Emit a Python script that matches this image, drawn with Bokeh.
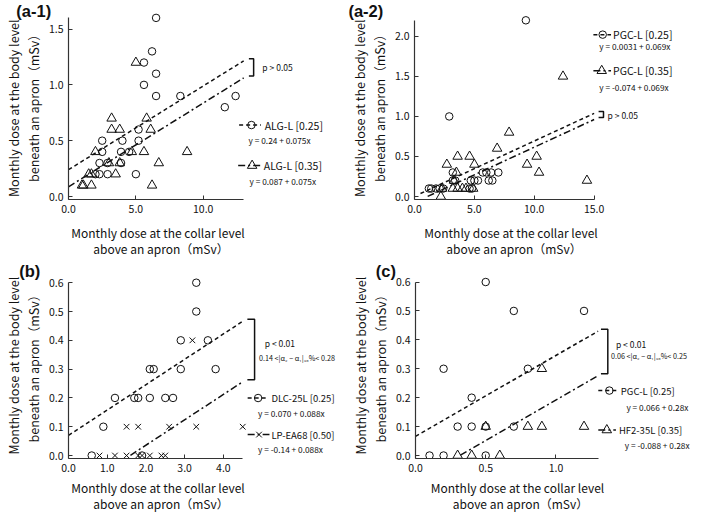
from bokeh.plotting import figure
from bokeh.layouts import column, row
from bokeh.models import Range1d, FixedTicker, NumeralTickFormatter, Label
from bokeh.embed import file_html
from bokeh.resources import INLINE

FONT = "Noto Sans CJK JP"
TFONT = "Liberation Sans"
INK = "#111111"

# ------------------------------------------------------------------ data
# (a-1)
a1_L25_x = [6.5, 6.2, 5.6, 6.5, 5.6, 6.5, 8.3, 11.6, 12.4, 5.2, 2.5, 4.0, 5.2, 2.5, 3.9, 4.5, 2.3, 2.9, 3.9, 2.0, 2.3, 2.9, 5.0]
a1_L25_y = [1.6, 1.3, 1.2, 1.1, 1.0, 0.9, 0.9, 0.8, 0.9, 0.6, 0.5, 0.5, 0.5, 0.4, 0.4, 0.4, 0.3, 0.3, 0.3, 0.2, 0.2, 0.2, 0.2]
a1_L35_x = [5.0, 3.2, 5.8, 3.2, 3.8, 6.1, 2.0, 4.7, 5.6, 8.8, 3.0, 3.8, 6.7, 1.5, 1.7, 3.5, 1.0, 1.1, 1.7, 6.2]
a1_L35_y = [1.2, 0.7, 0.7, 0.6, 0.6, 0.6, 0.4, 0.4, 0.4, 0.4, 0.3, 0.3, 0.3, 0.2, 0.2, 0.2, 0.1, 0.1, 0.1, 0.1]
a1_fits = [(0.24, 0.075, 0.0, 13.0), (0.087, 0.075, 0.0, 13.0)]
a1_names = ["ALG-L [0.25]", "ALG-L [0.35]"]
a1_eqs = ["y = 0.24 + 0.075x", "y = 0.087 + 0.075x"]
a1_stat = ["p > 0.05"]
a1_xticks = [0, 5, 10]
a1_yticks = [0, 0.5, 1.0, 1.5]

# (a-2)
a2_L25_x = [9.3, 2.9, 3.2, 5.7, 6.0, 6.4, 7.0, 3.2, 3.4, 4.7, 5.0, 5.3, 6.2, 6.5, 1.2, 1.4, 1.8, 2.1, 2.4, 4.6, 4.8]
a2_L25_y = [2.2, 1.0, 0.3, 0.3, 0.3, 0.3, 0.3, 0.2, 0.2, 0.2, 0.2, 0.2, 0.2, 0.2, 0.1, 0.1, 0.1, 0.1, 0.1, 0.1, 0.1]
a2_L35_x = [12.4, 7.9, 6.9, 3.6, 4.6, 10.2, 2.7, 5.0, 9.4, 10.4, 3.5, 14.4, 3.3, 2.3, 3.2, 3.6, 4.0, 4.3, 4.9, 2.2]
a2_L35_y = [1.5, 0.8, 0.6, 0.5, 0.5, 0.5, 0.4, 0.4, 0.4, 0.3, 0.3, 0.2, 0.2, 0.1, 0.1, 0.1, 0.1, 0.1, 0.1, 0.0]
a2_fits = [(0.0031, 0.069, 0.5, 15.0), (-0.074, 0.069, 1.1, 15.0)]
a2_names = ["PGC-L [0.25]", "PGC-L [0.35]"]
a2_eqs = ["y = 0.0031 + 0.069x", "y = -0.074 + 0.069x"]
a2_stat = ["p > 0.05"]
a2_xticks = [0, 5, 10, 15]
a2_yticks = [0, 0.5, 1.0, 1.5, 2.0]

# (b)
b_D25_x = [3.3, 3.3, 2.9, 3.6, 2.1, 2.2, 2.9, 3.8, 1.2, 1.7, 1.8, 2.1, 2.5, 2.7, 0.9, 0.6, 1.9]
b_D25_y = [0.6, 0.5, 0.4, 0.4, 0.3, 0.3, 0.3, 0.3, 0.2, 0.2, 0.2, 0.2, 0.2, 0.2, 0.1, 0.0, 0.0]
b_LP_x = [3.2, 1.5, 1.8, 2.6, 3.3, 4.5, 0.8, 1.2, 1.5, 1.8, 1.9, 2.1, 2.4, 2.5]
b_LP_y = [0.4, 0.1, 0.1, 0.1, 0.1, 0.1, 0.0, 0.0, 0.0, 0.0, 0.0, 0.0, 0.0, 0.0]
b_fits = [(0.070, 0.088, 0.0, 4.5), (-0.14, 0.088, 1.6, 4.5)]
b_names = ["DLC-25L [0.25]", "LP-EA68 [0.50]"]
b_eqs = ["y = 0.070 + 0.088x", "y = -0.14 + 0.088x"]
b_stat = ["p < 0.01", "0.14 <|α₂ − α₁|₉₅%< 0.28"]
b_xticks = [0, 1, 2, 3, 4]
b_yticks = [0, 0.1, 0.2, 0.3, 0.4, 0.5, 0.6]

# (c)
c_P25_x = [0.5, 0.7, 1.2, 0.2, 0.8, 0.4, 0.3, 0.4, 0.5, 0.7, 0.1, 0.2, 0.5]
c_P25_y = [0.6, 0.5, 0.5, 0.3, 0.3, 0.2, 0.1, 0.1, 0.1, 0.1, 0.0, 0.0, 0.0]
c_H35_x = [0.9, 0.5, 0.8, 0.9, 1.2, 0.3, 0.4, 0.6]
c_H35_y = [0.3, 0.1, 0.1, 0.1, 0.1, 0.0, 0.0, 0.0]
c_fits = [(0.066, 0.28, 0.0, 1.3), (-0.088, 0.28, 0.32, 1.3)]
c_names = ["PGC-L [0.25]", "HF2-35L [0.35]"]
c_eqs = ["y = 0.066 + 0.28x", "y = -0.088 + 0.28x"]
c_stat = ["p < 0.01", "0.06 <|α₂ − α₁|₉₅%< 0.25"]
c_xticks = [0, 0.5, 1.0]
c_yticks = [0, 0.1, 0.2, 0.3, 0.4, 0.5, 0.6]

XLABEL_LINES = ["Monthly dose at the collar level", "above an apron（mSv）"]
YLABEL_LINES = ["Monthly dose at the body level", "beneath an apron（mSv）"]

# ------------------------------------------------------------------ layout
SX, OX = 0.98, 5.06                       # reference x -> page x
ROW_MAP = [(0.975, 1.0),                  # row 1: page_y = a*ref + b
           (0.948, 282 - 0.948 * 287.7)]  # row 2 (slightly compressed)
XLAB_STANDOFF = [8, 4]
YLAB_PAD = ["\u3000", "\u2002"]           # trailing pad: nudges the centred label down
COLS = [(8, 353), (353, 701)]
ROWS = [(0, 262), (262, 523)]
TOP = 4
PAD = 3
DASH = "4 3"
DASHDOT = "7 3 2 3"


def px(rx):
    return OX + SX * rx


def msize(mk):
    return 7.5 if mk == "circle" else (9.5 if mk == "triangle" else 8)


def padded(lines, pad):
    return "\n".join(line + pad for line in lines)


def build(spec):
    fx0, fx1 = COLS[spec["col"]]
    fy0, fy1 = ROWS[spec["row"]]
    sy_, oy_ = ROW_MAP[spec["row"]]

    def py(ry):
        return oy_ + sy_ * ry

    xu = spec["xu"] * SX
    yu = spec["yu"] * sy_
    left = int(round(px(spec["x0"])))
    bottom = int(round(py(spec["y0"]) + PAD))
    zero_y = bottom - PAD
    top = fy0 + TOP
    right = fx1 - 2
    y_lo = -PAD / yu
    p = figure(width=fx1 - fx0, height=fy1 - fy0,
               x_range=Range1d(0, (right - left) / xu),
               y_range=Range1d(y_lo, (zero_y - top) / yu),
               min_border_left=left - fx0, min_border_right=fx1 - right,
               min_border_top=TOP, min_border_bottom=fy1 - bottom,
               output_backend="svg", toolbar_location=None)
    p.grid.visible = False
    p.outline_line_color = None

    def dx(rx):
        return (px(rx) - left) / xu

    def dy(ry):
        return (zero_y - py(ry)) / yu

    # panel title in the "above" side panel, pulled down over the frame
    title_left, title_bottom = spec["title_pos"]
    p.title.text = spec["title"]
    p.title.align = "left"
    p.title.offset = px(title_left) - left
    p.title.vertical_align = "bottom"
    p.title.standoff = int(round(-2 * (py(title_bottom) - top)))
    p.title.text_font = TFONT
    p.title.text_font_size = "16.5px"
    p.title.text_font_style = "bold"
    p.title.text_color = INK

    xa, ya = p.xaxis[0], p.yaxis[0]
    xa.bounds = (0, spec["xmax"])
    ya.bounds = (y_lo, spec["ymax"])
    xa.ticker = FixedTicker(ticks=spec["xticks"])
    ya.ticker = FixedTicker(ticks=spec["yticks"])
    for ax in (xa, ya):
        ax.formatter = NumeralTickFormatter(format="0.0")
        ax.axis_line_color = "#333333"
        ax.axis_line_width = 1.2
        ax.major_tick_line_color = "#333333"
        ax.major_tick_in = 4
        ax.major_tick_out = 0
        ax.minor_tick_line_color = None
        ax.major_label_text_font = FONT
        ax.major_label_text_font_size = "10.5px"
        ax.major_label_text_color = INK
        ax.axis_label_text_font = FONT
        ax.axis_label_text_font_style = "normal"
        ax.axis_label_text_color = INK
    # labels are centred on the frame, which also holds the legend; a trailing
    # run of ideographic spaces moves the visible text back under the axis
    xa.axis_label = padded(XLABEL_LINES, "\u3000" * spec["xlab_pad"])
    ya.axis_label = padded(YLABEL_LINES, YLAB_PAD[spec["row"]])
    xa.axis_label_text_font_size = "12px"
    ya.axis_label_text_font_size = "12.5px"
    xa.major_label_standoff = 5
    xa.axis_label_standoff = XLAB_STANDOFF[spec["row"]]
    xa.axis_label_text_line_height = 0.95
    ya.major_label_standoff = 5
    ya.axis_label_standoff = 3
    ya.axis_label_text_line_height = 1.06

    markers = spec["markers"]
    for (xs, ys), mk in zip(spec["series"], markers):
        p.scatter(xs, ys, marker=mk, size=msize(mk), fill_color=None,
                  line_color=INK, line_width=1)

    dashes = [DASH, DASHDOT]
    ends = []
    for (a, b, x_lo, x_hi), dash in zip(spec["fits"], dashes):
        p.line([x_lo, x_hi], [a + b * x_lo, a + b * x_hi], line_dash=dash,
               line_width=1.5, line_color=INK)
        ends.append(a + b * x_hi)

    # bracket spanning the two fitted lines at their right end
    yhi = max(ends) + 2 / yu
    ylo = min(ends) + 2 / yu
    bt, bb = spec["bracket"]
    p.line([dx(bt), dx(bb), dx(bb), dx(bt)], [yhi, yhi, ylo, ylo],
           line_width=1.5, line_color=INK)
    for txt, (tx, ty, fs) in zip(spec["stat"], spec["stat_pos"]):
        p.add_layout(Label(x=dx(tx), y=dy(ty), text=txt, text_font=FONT,
                           text_font_size=fs, text_baseline="middle",
                           text_align="left", text_color=INK))

    # legend rows
    nfs, efs = spec["legend_fs"]
    for i, (sx0, sx1, mx, tx, ty, ex, ey) in enumerate(spec["legend"]):
        p.line([dx(sx0), dx(sx1)], [dy(ty), dy(ty)], line_dash=dashes[i],
               line_width=1.5, line_color=INK)
        mk = markers[i]
        p.scatter([dx(mx)], [dy(ty)], marker=mk, size=msize(mk), fill_color=None,
                  line_color=INK, line_width=1)
        p.add_layout(Label(x=dx(tx), y=dy(ty), text=spec["names"][i], text_font=FONT,
                           text_font_size=nfs, text_baseline="middle",
                           text_align="left", text_color=INK))
        p.add_layout(Label(x=dx(ex), y=dy(ey), text=spec["eqs"][i], text_font=FONT,
                           text_font_size=efs, text_baseline="middle",
                           text_align="left", text_color=INK))
    return p


A1 = dict(col=0, row=0, x0=63, xu=14.2, y0=200, yu=114.5, xmax=13, ymax=1.6,
          xticks=a1_xticks, yticks=a1_yticks, title="(a-1)", title_pos=(10, 19),
          xlab_pad=8,
          series=[(a1_L25_x, a1_L25_y), (a1_L35_x, a1_L35_y)],
          markers=["circle", "triangle"], fits=a1_fits, names=a1_names, eqs=a1_eqs,
          bracket=(253.3, 258.3), stat=a1_stat,
          stat_pos=[(267.5, 67.5, "8.5px")],
          legend_fs=("10.5px", "8.3px"),
          legend=[(243, 266, 256, 270, 126.7, 253, 142.3),
                  (242, 266, 256.7, 269, 168.3, 254, 184)])

A2 = dict(col=1, row=0, x0=425.7, xu=12.22, y0=201.7, yu=83, xmax=15, ymax=2.2,
          xticks=a2_xticks, yticks=a2_yticks, title="(a-2)", title_pos=(358, 19),
          xlab_pad=7,
          series=[(a2_L25_x, a2_L25_y), (a2_L35_x, a2_L35_y)],
          markers=["circle", "triangle"], fits=a2_fits, names=a2_names, eqs=a2_eqs,
          bracket=(613.3, 618.3), stat=a2_stat,
          stat_pos=[(622.5, 118, "8.5px")],
          legend_fs=("10.5px", "8.3px"),
          legend=[(608, 626, 617.5, 628, 34.3, 614, 46.5),
                  (608, 626, 616.5, 628, 71.7, 614, 88.3)])

B = dict(col=0, row=1, x0=63.3, xu=40.8, y0=472.3, yu=307, xmax=4.5, ymax=0.6,
         xticks=b_xticks, yticks=b_yticks, title="(b)", title_pos=(13, 285),
         xlab_pad=8,
         series=[(b_D25_x, b_D25_y), (b_LP_x, b_LP_y)],
         markers=["circle", "x"], fits=b_fits, names=b_names, eqs=b_eqs,
         bracket=(251.7, 259.3), stat=b_stat,
         stat_pos=[(270, 352.3, "8.5px"), (264, 368.3, "7.2px")],
         legend_fs=("9.5px", "8.3px"),
         legend=[(252, 274, 263, 277, 411, 263, 426.7),
                 (252, 275, 264, 277, 450, 263, 465.7)])

C = dict(col=1, row=1, x0=426.7, xu=143.3, y0=470.7, yu=305, xmax=1.3, ymax=0.6,
         xticks=c_xticks, yticks=c_yticks, title="(c)", title_pos=(386, 285),
         xlab_pad=6,
         series=[(c_P25_x, c_P25_y), (c_H35_x, c_H35_y)],
         markers=["circle", "triangle"], fits=c_fits, names=c_names, eqs=c_eqs,
         bracket=(615.7, 622.7), stat=c_stat,
         stat_pos=[(631, 352.3, "8.5px"), (626, 365, "7.2px")],
         legend_fs=("9.5px", "8.3px"),
         legend=[(613, 632, 624.3, 636, 401.7, 641.7, 419.3),
                 (613, 631, 621.7, 634, 443.3, 640, 459)])

layout = column(row(build(A1), build(A2)), row(build(B), build(C)))

open("out.html", "w").write(file_html(layout, INLINE))
